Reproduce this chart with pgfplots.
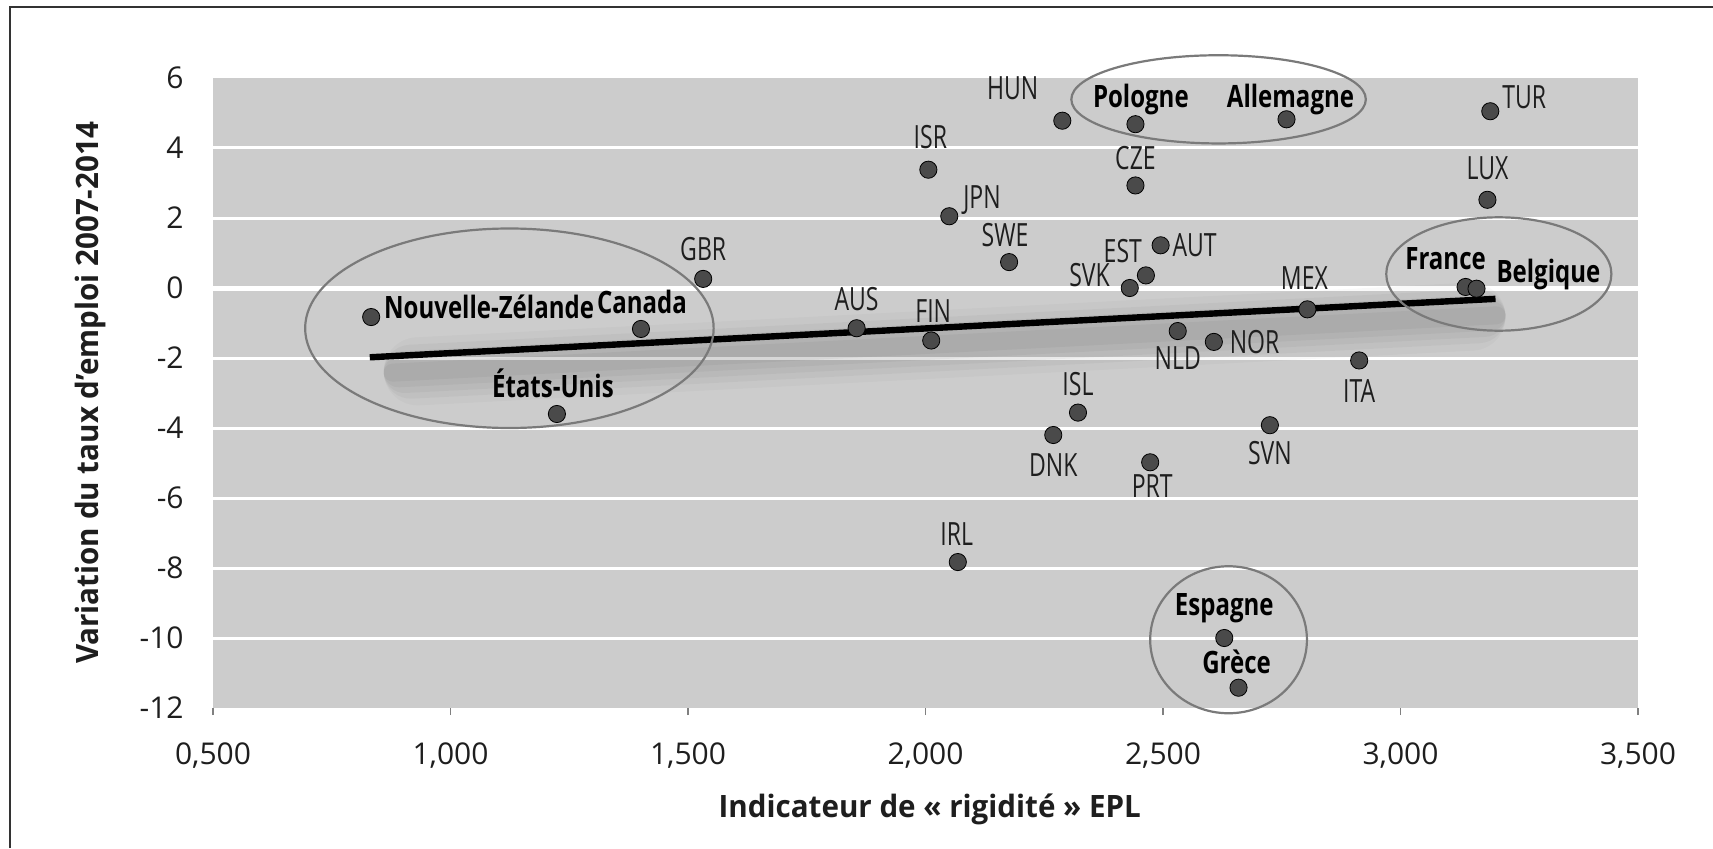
\documentclass[border=0pt]{standalone}
\usepackage{pgfplots}
\usepackage{pgfplotstable}
\pgfplotsset{compat=1.18}
\usepackage{fontspec}
\setmainfont{Open Sans}
\newfontfamily\lblfont{Open Sans}[FakeStretch=0.72]
\newfontfamily\blblfont{Open Sans}[FakeStretch=0.78]
\newfontfamily\titlefont{Open Sans}[FakeStretch=0.96]
\definecolor{bggray}{HTML}{CCCCCC}
\definecolor{dotgray}{HTML}{4A4A4A}
\definecolor{ellgray}{HTML}{7A7A7A}
\definecolor{txt}{HTML}{1E1E1E}

% ha: -1 text ends at the point, 0 centred, 1 text starts at the point; dx, dy: baseline offset in pt
\pgfplotstableread{
x y label ha dx dy
1.532 0.26 GBR 0 0 9
1.855 -1.15 AUS 0 0 9
2.012 -1.50 FIN 0 1 9
2.006 3.38 ISR 0 1 10.5
2.050 2.05 JPN 1 7 4
2.176 0.74 SWE 0 -2 8
2.288 4.78 HUN -1 -12 10.5
2.442 2.93 CZE 0 0 8
2.495 1.22 AUT 1 6 -5.7
2.464 0.36 EST -1 -2 6.5
2.430 0.00 SVK -1 -10 1
2.804 -0.61 MEX 0 -1.5 10
3.189 5.05 TUR 1 6 1.5
3.183 2.52 LUX 0 0 10
2.531 -1.23 NLD 0 0 -19
2.607 -1.54 NOR 1 8 -5.7
2.913 -2.07 ITA 0 0 -21
2.321 -3.56 ISL 0 0 8.5
2.269 -4.20 DNK 0 0 -20.5
2.725 -3.92 SVN 0 0 -19.5
2.473 -4.98 PRT 0 1 -17.5
2.068 -7.83 IRL 0 -0.5 8.5
}\plaindata

\pgfplotstableread{
x y label ha dx dy
0.833 -0.83 Nouvelle-Zélande 1 6.5 -0.5
1.401 -1.17 Canada 0 0.5 7.5
1.224 -3.60 États-Unis 0 -2 8.5
2.442 4.68 Pologne 0 2.7 8.5
2.760 4.82 Allemagne 0 2 6
3.137 0.03 France 0 -10 8.5
3.160 -0.02 Belgique 1 10 3
2.629 -10.00 Espagne 0 0 11.5
2.659 -11.42 Grèce 0 -1 7
}\bolddata

\pgfplotstableread{
x y
0.83 -1.98
3.20 -0.31
}\trend

\newcommand\placelabel[1]{%
  \ifdim\myha pt<0pt \makebox[0pt][r]{#1}%
  \else\ifdim\myha pt>0pt \makebox[0pt][l]{#1}%
  \else\makebox[0pt][c]{#1}\fi\fi}

\begin{document}
\begin{tikzpicture}
\path[use as bounding box] (0,0) rectangle (856.5pt,424pt);
\draw[line width=1pt, color=black!80] (5pt,0) -- (5pt,420.6pt) -- (856.5pt,420.6pt);
\begin{axis}[
  at={(106.5pt,70pt)}, anchor=south west,
  width=712.5pt, height=315pt, scale only axis,
  xmin=0.5, xmax=3.5, ymin=-12, ymax=6,
  clip=false,
  axis line style={draw=none},
  axis background/.style={fill=bggray},
  xtick={0.5,1,1.5,2,2.5,3,3.5},
  xticklabels={{0,500},{1,000},{1,500},{2,000},{2,500},{3,000},{3,500}},
  ytick={-12,-10,-8,-6,-4,-2,0,2,4,6},
  yticklabels={-12,-10,-8,-6,-4,-2,0,2,4,6},
  extra y ticks={-10,-8,-6,-4,-2,2,4},
  extra y tick labels={},
  extra y tick style={grid=major},
  grid style={white, line width=1.5pt},
  xtick pos=left, ytick pos=left,
  xtick align=outside,
  major tick length=3.5pt,
  xtick style={color=gray, line width=0.6pt},
  ytick style={draw=none},
  ticklabel style={font=\fontsize{15}{15}\selectfont, text=txt, inner sep=0pt},
  xticklabel style={anchor=base, yshift=-24.5pt},
  yticklabel style={anchor=east, xshift=-14.5pt},
  xlabel={Indicateur de « rigidité » EPL},
  ylabel={Variation du taux d’emploi 2007-2014},
  xlabel style={at={(axis description cs:0.503,-0.173)}, anchor=base, inner sep=0pt, font=\titlefont\bfseries\fontsize{15.4}{15.4}\selectfont, text=txt},
  ylabel style={at={(axis description cs:-0.08,0.5)}, anchor=base, inner sep=0pt, font=\titlefont\bfseries\fontsize{15.4}{15.4}\selectfont, text=txt},
  shadow/.style={black, line cap=round, forget plot, xshift=5pt, yshift=-8pt},
]
% zero line
\addplot[white, line width=2.5pt, forget plot] coordinates {(0.5,0) (3.5,0)};
% soft shadow of the trend line
\addplot[shadow, opacity=0.025, line width=34pt, shorten <=19pt, shorten >=17pt] table[x=x,y=y] \trend;
\addplot[shadow, opacity=0.03, line width=27pt, shorten <=15.5pt, shorten >=13.5pt] table[x=x,y=y] \trend;
\addplot[shadow, opacity=0.03, line width=21pt, shorten <=12.5pt, shorten >=10.5pt] table[x=x,y=y] \trend;
\addplot[shadow, opacity=0.035, line width=15pt, shorten <=9.5pt, shorten >=7.5pt] table[x=x,y=y] \trend;
\addplot[shadow, opacity=0.04, line width=9pt, shorten <=6.5pt, shorten >=4.5pt] table[x=x,y=y] \trend;
% trend line
\addplot[black, line width=3.2pt, forget plot] table[x=x,y=y] \trend;
% group ellipses
\draw[ellgray, line width=1.1pt] (axis cs:1.124,-1.15) ellipse [x radius=0.43, y radius=2.85];
\draw[ellgray, line width=1.1pt] (axis cs:2.617,5.39) ellipse [x radius=0.31, y radius=1.26];
\draw[ellgray, line width=1.1pt] (axis cs:3.207,0.40) ellipse [x radius=0.237, y radius=1.62];
\draw[ellgray, line width=1.1pt] (axis cs:2.638,-10.05) ellipse [x radius=0.165, y radius=2.1];
% countries
\addplot[only marks, mark=*, mark size=4.3pt, mark options={fill=dotgray, draw=none},
  point meta=explicit symbolic,
  visualization depends on={\thisrow{ha}\as\myha},
  visualization depends on={\thisrow{dx}\as\mydx},
  visualization depends on={\thisrow{dy}\as\mydy},
  nodes near coords={\placelabel{\pgfplotspointmeta}},
  every node near coord/.append style={anchor=base, xshift=\mydx pt, yshift=\mydy pt,
     inner sep=0pt, font=\lblfont\fontsize{16}{16}\selectfont, text=txt}
] table[x=x, y=y, meta=label] \plaindata;
\addplot[only marks, mark=*, mark size=4.3pt, mark options={fill=dotgray, draw=none},
  point meta=explicit symbolic,
  visualization depends on={\thisrow{ha}\as\myha},
  visualization depends on={\thisrow{dx}\as\mydx},
  visualization depends on={\thisrow{dy}\as\mydy},
  nodes near coords={\placelabel{\pgfplotspointmeta}},
  every node near coord/.append style={anchor=base, xshift=\mydx pt, yshift=\mydy pt,
     inner sep=0pt, font=\blblfont\bfseries\fontsize{15.4}{15.4}\selectfont, text=black}
] table[x=x, y=y, meta=label] \bolddata;
\end{axis}
\end{tikzpicture}
\end{document}
